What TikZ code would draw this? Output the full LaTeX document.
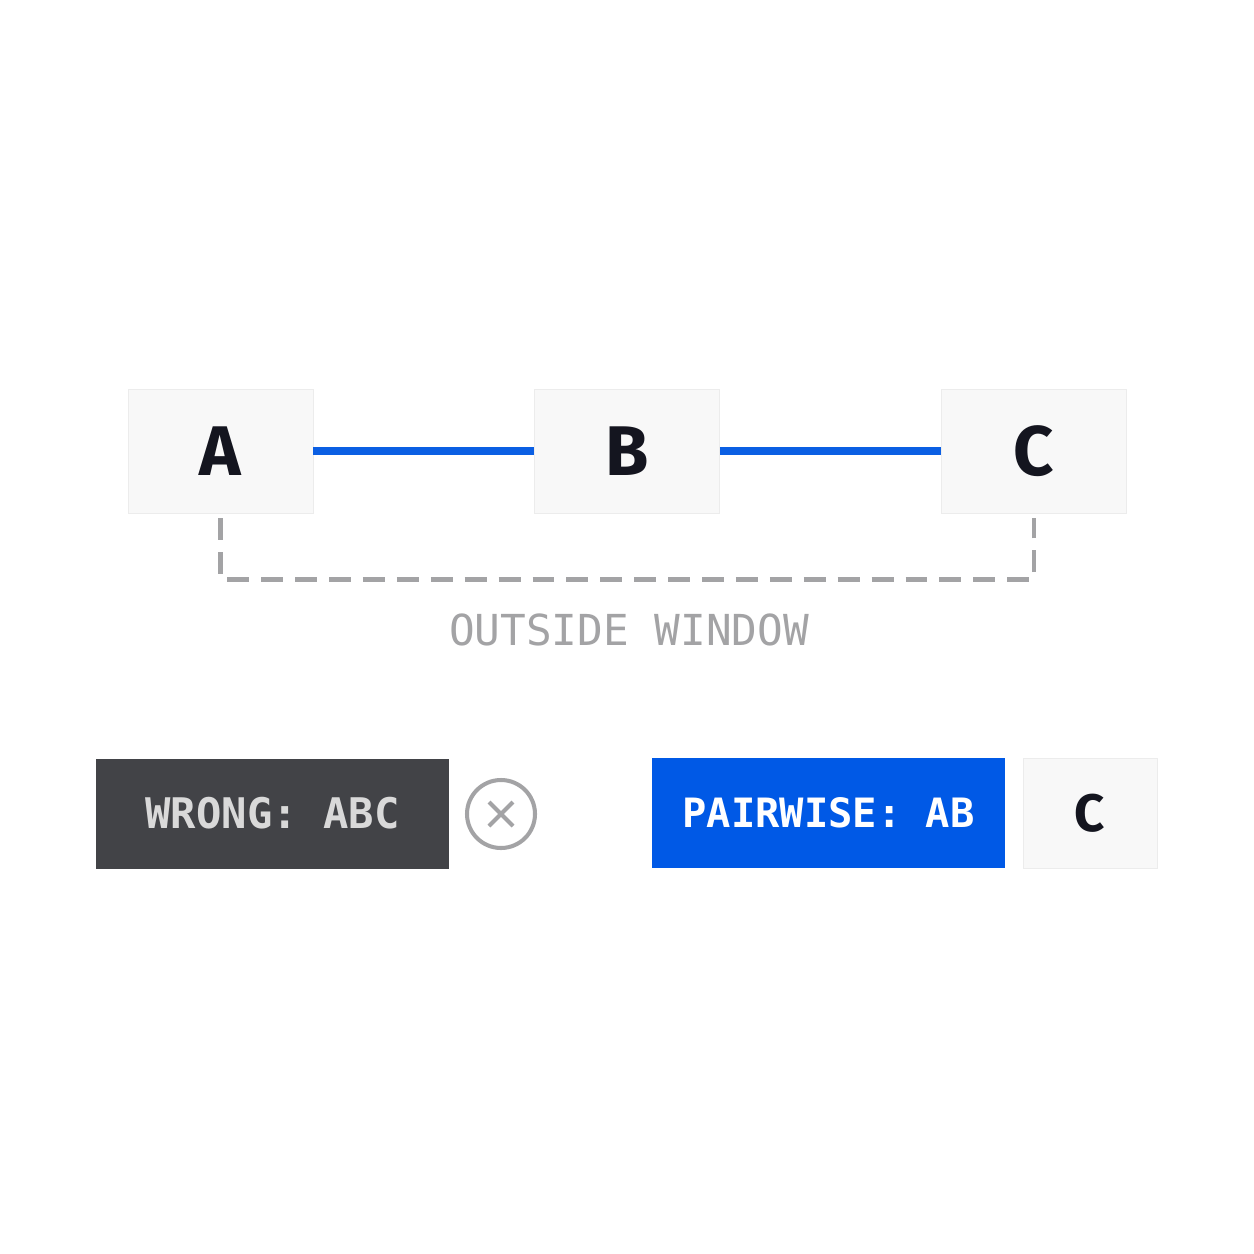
\documentclass[tikz,border=0pt]{standalone}
\usepackage{fontspec}
\setmainfont{Fira Sans}
\setmonofont{DejaVu Sans Mono}
\usetikzlibrary{calc}
\definecolor{boxfill}{HTML}{F8F8F8}
\definecolor{boxline}{HTML}{ECECEC}
\definecolor{linkblue}{HTML}{0B5FE3}
\definecolor{dashgray}{HTML}{A3A3A5}
\definecolor{wrongfill}{HTML}{424347}
\definecolor{wrongtext}{HTML}{D9D9D9}
\definecolor{pairblue}{HTML}{0059E6}
\definecolor{letterink}{HTML}{14151F}

\begin{document}
\begin{tikzpicture}[x=0.02cm, y=-0.02cm,
	item/.style={draw=boxline, line width=0.4pt, fill=boxfill, minimum width=3.7cm, minimum height=2.48cm, font=\fontsize{40}{44}\selectfont\bfseries, text=letterink},
	link/.style={draw=linkblue, line width=5pt},
	window/.style={draw=dashgray, line width=2.8pt, dash pattern=on 12.5pt off 6.8pt},
	tag/.style={minimum width=7.06cm, minimum height=2.2cm, font=\ttfamily\bfseries\fontsize{24}{28}\selectfont}]
			%%%%% START %%%%%
			\useasboundingbox[fill=white] (0,0) rectangle (1254,1254);
			
			\node[item] (A) at (220.5, 451) {A};
			\node[item] (B) at (627, 451) {B};
			\node[item] (C) at (1034, 451) {C};
			
			\draw[link] (A.east) -- (B.west);
			\draw[link] (B.east) -- (C.west);
			
			\draw[window] ($(A.south)+(0,5)$) -- ++(0,61) -| ($(C.south)+(0,5)$);
			\node[font=\ttfamily\fontsize{24.3}{28}\selectfont, text=dashgray] (out) at (629, 630) {OUTSIDE WINDOW};
			
			\node[tag, fill=wrongfill, text=wrongtext] (wrong) at (272.5, 813.5) {WRONG: ABC};
			\draw[draw=dashgray, line width=2.3pt] (501, 814) circle (34);
			\draw[draw=dashgray, line width=2.3pt] (489, 802) -- (513, 826) (513, 802) -- (489, 826);
			
			\node[tag, fill=pairblue, text=white, font=\ttfamily\bfseries\fontsize{23}{27}\selectfont] (pair) at (828.5, 813) {PAIRWISE: AB};
			\node[item, minimum width=2.68cm, minimum height=2.2cm, font=\fontsize{30}{34}\selectfont\bfseries] (rest) at (1090, 813) {C};
			%%%%% END %%%%%
\end{tikzpicture}
\end{document}
